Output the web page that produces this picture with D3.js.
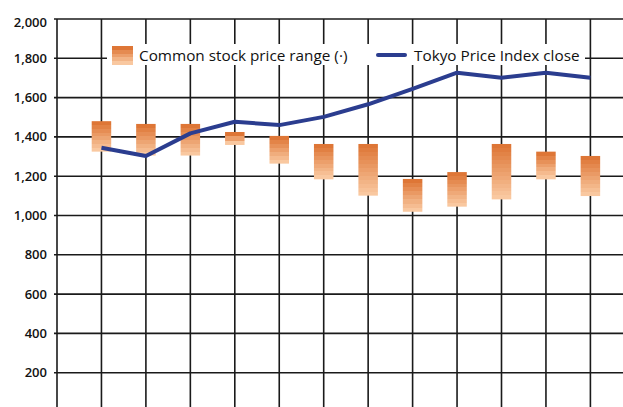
<!DOCTYPE html>
<html>
<head>
<meta charset="utf-8">
<script src="https://cdn.jsdelivr.net/npm/d3@7"></script>
<style>
  body { margin: 0; background: #fff; }
  svg { display: block; }
  text { font-family: "Open Sans", sans-serif; fill: #111; }
</style>
</head>
<body>
<svg id="chart" width="623" height="407"></svg>
<script>
// Monthly data (fiscal year, April to March)
const months = ['Apr', 'May', 'Jun', 'Jul', 'Aug', 'Sep', 'Oct', 'Nov', 'Dec', 'Jan', 'Feb', 'Mar'];
const rangeHigh = [1480, 1466, 1466, 1425, 1405, 1364, 1364, 1186, 1221, 1364, 1325, 1303];
const rangeLow = [1325, 1305, 1305, 1359, 1264, 1184, 1101, 1019, 1045, 1082, 1184, 1099];
const topixClose = [1345, 1303, 1418, 1477, 1460, 1502, 1566, 1644, 1727, 1701, 1727, 1701];
const yTicks = [200, 400, 600, 800, 1000, 1200, 1400, 1600, 1800, 2000];
const legendLabels = ['Common stock price range (\u00b7)', 'Tokyo Price Index close'];

const width = 623;
const height = 407;
const left = 57;
const step = 44.45;

const fmt = d3.format(',');

// index -1 is the left axis, 0..11 are the months
const x = d3.scaleLinear()
  .domain([-1, months.length])
  .range([left, left + (months.length + 1) * step]);

const y = d3.scaleLinear()
  .domain([0, 2000])
  .range([412, 19]);

const barColor = d3.interpolateRgb('#de7636', '#f9c8a0');

const svg = d3.select('#chart');
const defs = svg.append('defs');

// stepped gradient, bands about 4px tall
function stripes(id, h) {
  const n = Math.max(3, Math.round(h / 4));
  const g = defs.append('linearGradient')
    .attr('id', id)
    .attr('x1', 0).attr('y1', 0).attr('x2', 0).attr('y2', 1);
  for (let i = 0; i < n; i++) {
    const c = barColor(i / (n - 1));
    g.append('stop').attr('offset', i / n).attr('stop-color', c);
    g.append('stop').attr('offset', (i + 1) / n).attr('stop-color', c);
  }
  return `url(#${id})`;
}

// Grid
const grid = svg.append('g')
  .attr('stroke', '#1a1a1a')
  .attr('stroke-width', 1.6);

grid.selectAll('line.v')
  .data(d3.range(-1, months.length + 1))
  .join('line')
  .attr('class', 'v')
  .attr('x1', (d) => x(d)).attr('x2', (d) => x(d))
  .attr('y1', y(2000)).attr('y2', height);

grid.selectAll('line.h')
  .data(yTicks)
  .join('line')
  .attr('class', 'h')
  .attr('x1', left - 3).attr('x2', width)
  .attr('y1', (d) => y(d)).attr('y2', (d) => y(d));

// Tick labels
svg.append('g')
  .selectAll('text')
  .data(yTicks)
  .join('text')
  .attr('x', 47)
  .attr('y', (d) => y(d) + (d === 2000 ? 3 : 0))
  .attr('dy', '0.35em')
  .attr('text-anchor', 'end')
  .attr('font-size', '13px')
  .attr('font-weight', 600)
  .text((d) => fmt(d));

// Legend box (covers the grid)
svg.append('rect')
  .attr('x', 107).attr('y', 44)
  .attr('width', 478).attr('height', 21)
  .attr('fill', '#fff');

// Price range bars
const barW = 19.5;
svg.append('g')
  .selectAll('rect')
  .data(months)
  .join('rect')
  .attr('x', (d, i) => x(i) - barW / 2)
  .attr('y', (d, i) => y(rangeHigh[i]))
  .attr('width', barW)
  .attr('height', (d, i) => y(rangeLow[i]) - y(rangeHigh[i]))
  .attr('fill', (d, i) => stripes('bar' + i, y(rangeLow[i]) - y(rangeHigh[i])));

// TOPIX line
const line = d3.line()
  .x((d, i) => x(i))
  .y((d) => y(d));

svg.append('path')
  .datum(topixClose)
  .attr('d', line)
  .attr('fill', 'none')
  .attr('stroke', '#2b3d8f')
  .attr('stroke-width', 4)
  .attr('stroke-linejoin', 'round');

// Legend
const legend = svg.append('g');
legend.append('rect')
  .attr('x', 112).attr('y', 46)
  .attr('width', 21).attr('height', 19)
  .attr('fill', stripes('legendSwatch', 19));

legend.append('text')
  .attr('x', 139).attr('y', 60.5)
  .attr('font-size', '15.3px')
  .attr('font-weight', 500)
  .text(legendLabels[0]);

legend.append('line')
  .attr('x1', 378).attr('x2', 405)
  .attr('y1', 55).attr('y2', 55)
  .attr('stroke', '#2b3d8f')
  .attr('stroke-width', 4)
  .attr('stroke-linecap', 'round');

legend.append('text')
  .attr('x', 414).attr('y', 60.5)
  .attr('font-size', '15.3px')
  .attr('font-weight', 500)
  .text(legendLabels[1]);
</script>
</body>
</html>
